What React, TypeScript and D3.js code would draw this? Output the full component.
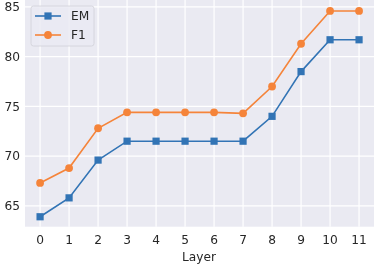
import * as React from 'react';
import * as d3 from 'd3';

const layers = [0, 1, 2, 3, 4, 5, 6, 7, 8, 9, 10, 11];
const emValues = [63.9, 65.8, 69.6, 71.5, 71.5, 71.5, 71.5, 71.5, 74.0, 78.5, 81.7, 81.7];
const f1Values = [67.3, 68.8, 72.8, 74.4, 74.4, 74.4, 74.4, 74.3, 77.0, 81.3, 84.6, 84.6];
const yTicks = [65, 70, 75, 80, 85];

const width = 374;
const height = 265;

const App: React.FC = () => {
  const svgRef = React.useRef(null);

  React.useEffect(() => {
    draw();
  }, []);

  const draw = () => {
    const svg = d3.select(svgRef.current);
    svg.selectAll('*').remove();

    const left = 25, right = 375, top = 0, bottom = 226.7;

    const xScale = d3.scaleLinear().domain([-0.52, 11.55]).range([left, right]);
    const yScale = d3.scaleLinear().domain([62.9, 85.7]).range([bottom, top]);

    svg.append('rect')
      .attr('x', left).attr('y', top)
      .attr('width', right - left).attr('height', bottom - top)
      .attr('fill', '#eaeaf2');

    // grid
    svg.append('g').selectAll('line').data(layers).enter().append('line')
      .attr('x1', d => xScale(d)).attr('x2', d => xScale(d))
      .attr('y1', top).attr('y2', bottom)
      .attr('stroke', '#fff').attr('stroke-width', 1.2);
    svg.append('g').selectAll('line').data(yTicks).enter().append('line')
      .attr('x1', left).attr('x2', right)
      .attr('y1', d => yScale(d)).attr('y2', d => yScale(d))
      .attr('stroke', '#fff').attr('stroke-width', 1.2);

    // tick labels
    const font = 'DejaVu Sans, sans-serif';
    const fs = 12.2;
    svg.append('g').selectAll('text').data(yTicks).enter().append('text')
      .attr('x', left - 5).attr('y', d => yScale(d))
      .attr('dy', '0.36em')
      .attr('text-anchor', 'end')
      .attr('font-family', font).attr('font-size', fs).attr('fill', '#262626')
      .text(d => d);
    svg.append('g').selectAll('text').data(layers).enter().append('text')
      .attr('x', d => xScale(d)).attr('y', 240)
      .attr('dy', '0.36em')
      .attr('text-anchor', 'middle')
      .attr('font-family', font).attr('font-size', fs).attr('fill', '#262626')
      .text(d => d);
    svg.append('text')
      .attr('x', (left + right) / 2 - 1).attr('y', 257)
      .attr('dy', '0.36em')
      .attr('text-anchor', 'middle')
      .attr('font-family', font).attr('font-size', fs).attr('fill', '#262626')
      .text('Layer');

    const line = d3.line<number>()
      .x((d, i) => xScale(layers[i]))
      .y(d => yScale(d));

    const blue = '#3274b5';
    const orange = '#f5843a';

    // EM
    svg.append('path').datum(emValues)
      .attr('d', line).attr('fill', 'none')
      .attr('stroke', blue).attr('stroke-width', 1.6);
    svg.append('g').selectAll('rect').data(emValues).enter().append('rect')
      .attr('x', (d, i) => xScale(layers[i]) - 3.6)
      .attr('y', d => yScale(d) - 3.6)
      .attr('width', 7.2).attr('height', 7.2)
      .attr('fill', blue);

    // F1
    svg.append('path').datum(f1Values)
      .attr('d', line).attr('fill', 'none')
      .attr('stroke', orange).attr('stroke-width', 1.6);
    svg.append('g').selectAll('circle').data(f1Values).enter().append('circle')
      .attr('cx', (d, i) => xScale(layers[i]))
      .attr('cy', d => yScale(d))
      .attr('r', 3.9)
      .attr('fill', orange);

    // legend
    const legend = svg.append('g');
    legend.append('rect')
      .attr('x', 31).attr('y', 6).attr('width', 63).attr('height', 40).attr('rx', 2.5)
      .attr('fill', '#eaeaf2').attr('fill-opacity', 0.8)
      .attr('stroke', '#d0d0d8').attr('stroke-width', 0.8);
    const items = [
      { name: 'EM', color: blue, shape: 'square', y: 16 },
      { name: 'F1', color: orange, shape: 'circle', y: 35 },
    ];
    items.forEach(it => {
      legend.append('line')
        .attr('x1', 35).attr('x2', 61).attr('y1', it.y).attr('y2', it.y)
        .attr('stroke', it.color).attr('stroke-width', 1.6);
      if (it.shape === 'square') {
        legend.append('rect')
          .attr('x', 48 - 3.6).attr('y', it.y - 3.6).attr('width', 7.2).attr('height', 7.2)
          .attr('fill', it.color);
      } else {
        legend.append('circle').attr('cx', 48).attr('cy', it.y).attr('r', 3.9).attr('fill', it.color);
      }
      legend.append('text')
        .attr('x', 71).attr('y', it.y).attr('dy', '0.36em')
        .attr('font-family', font).attr('font-size', fs).attr('fill', '#262626')
        .text(it.name);
    });
  };

  return (
    <div style={{ position: 'fixed', top: 0, left: 0 }}>
      <svg ref={svgRef} width={width} height={height} style={{ display: 'block' }}></svg>
    </div>
  );
};

export default App;
